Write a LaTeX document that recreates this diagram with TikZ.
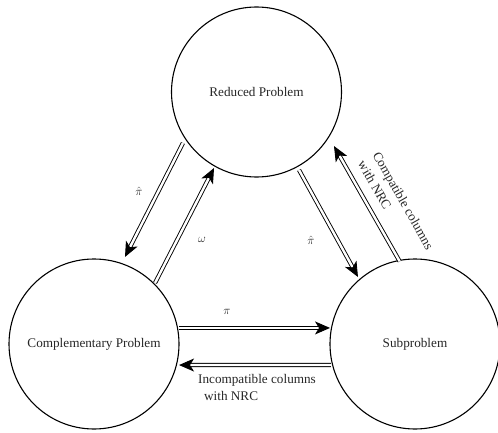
\documentclass[tikz,border=0pt]{standalone}
\usepackage{fontspec}
\setmainfont{Liberation Serif}
\usetikzlibrary{arrows.meta,calc}
\begin{document}
\begin{tikzpicture}[x=1pt,y=1pt,
  every node/.style={font=\fontsize{13.2}{17}\selectfont, text=black!85},
  state/.style={draw, circle, line width=1.1pt, minimum size=170pt, inner sep=0pt},
  dbl/.style={draw, double, line width=0.9pt, double distance=2.4pt,
    -{Stealth[length=15pt,width=13pt,inset=4pt]}},
  lbl/.style={inner sep=1pt}]
\useasboundingbox (0,0) rectangle (498,432);
\node[state] (red) at (256.5,340) {Reduced Problem};
\node[state] (comp) at (94,88) {Complementary Problem};
\node[state] (sub) at (415,88) {Subproblem};
% arrows
\draw[dbl] ($(red)+(214.75:89.5pt)$) -- ($(comp)+(70.4:92.4pt)$);
\draw[dbl] ($(comp)+(45:86.3pt)$) -- ($(red)+(240.8:87.1pt)$);
\draw[dbl] ($(red)+(-61.4:88.8pt)$) -- ($(sub)+(130.4:88pt)$);
\draw[dbl] ($(sub)+(100.5:84pt)$) -- ($(red)+(-34.9:94.5pt)$);
\draw[dbl] ($(comp)+(10.7:86.5pt)$) -- ($(sub)+(169.3:86.5pt)$);
\draw[dbl] ($(sub)+(194:86.6pt)$) -- ($(comp)+(-13.9:87.6pt)$);
% labels
\node[lbl] (l1) at (139,241) {$\hat\pi$};
\node[lbl] (l2) at (202,192) {$\omega$};
\node[lbl] (l3) at (311,192) {$\hat\pi$};
\node[lbl] (l4) at (227,120) {$\pi$};
\node[lbl, align=left, rotate=-60.5] (l5) at (396,227) {Compatible columns\\with NRC};
\node[lbl, align=left] (l6) at (257,44.5) {Incompatible columns\\\hspace*{6pt}with NRC};
\end{tikzpicture}
\end{document}
